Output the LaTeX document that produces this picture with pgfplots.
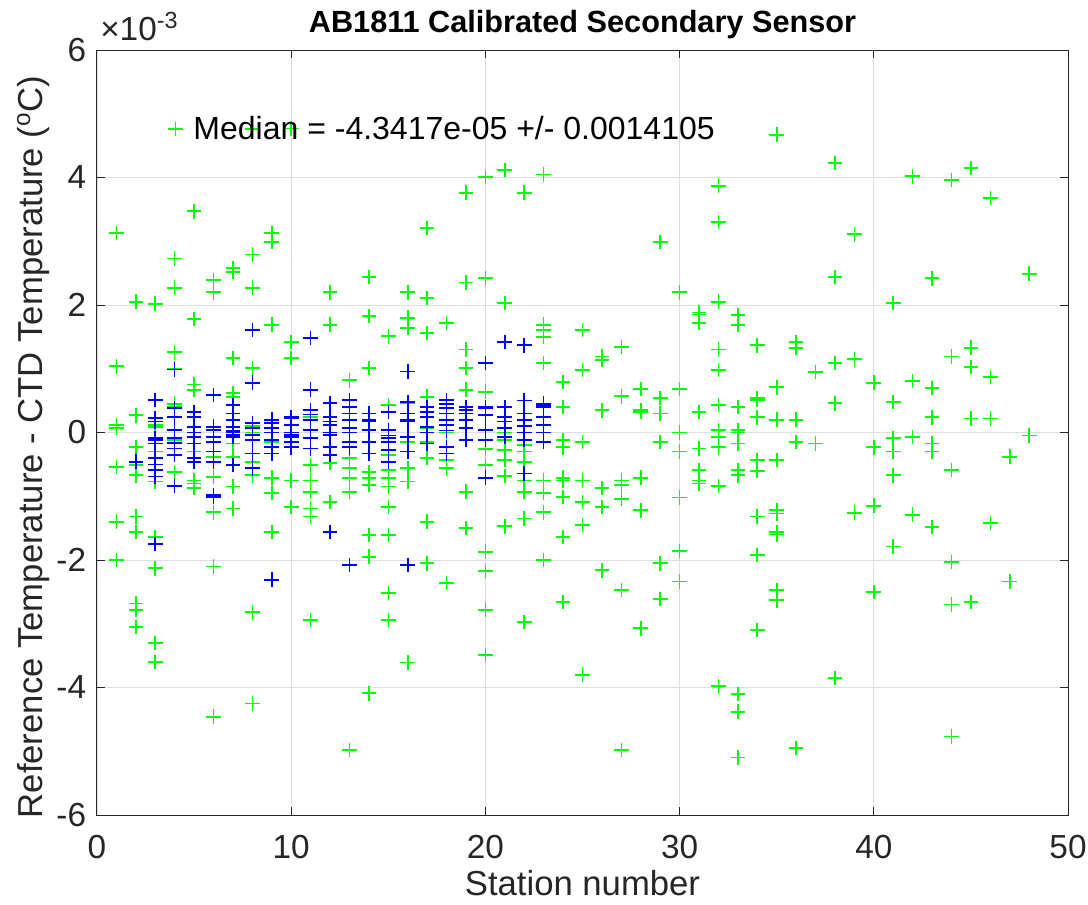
\documentclass[border=0pt]{standalone}
\usepackage{fontspec}
\setmainfont{Liberation Sans}
\usepackage{pgfplots}
\pgfplotsset{compat=1.18}
\usepackage{pgfplotstable}
\definecolor{mgreen}{rgb}{0,1,0}
\definecolor{mblue}{rgb}{0,0,1}
\definecolor{mgray}{rgb}{0.15,0.15,0.15}

% values in units of 1e-3 degC
\pgfplotstableread{
x y
1 3.13
1 1.04
1 0.12
1 0.07
1 -0.54
1 -1.4
1 -2.0
2 2.05
2 0.27
2 -0.23
2 -0.51
2 -0.67
2 -1.32
2 -1.56
2 -2.68
2 -2.78
2 -3.05
3 2.02
3 0.12
3 0.09
3 -0.3
3 -0.77
3 -1.64
3 -2.13
3 -3.3
3 -3.6
4 2.73
4 2.27
4 1.26
4 1.0
4 0.45
4 0.4
4 -0.12
4 -0.62
5 3.47
5 1.78
5 0.75
5 0.67
5 -0.17
5 -0.3
5 -0.75
5 -0.8
5 -0.87
6 2.39
6 2.2
6 -0.3
6 -0.38
6 -0.7
6 -1.25
6 -2.1
6 -4.46
7 2.58
7 2.52
7 1.17
7 0.62
7 0.56
7 -0.17
7 -0.38
7 -0.85
7 -1.19
8 4.76
8 2.79
8 2.27
8 1.01
8 0.1
8 0.0
8 -0.46
8 -0.67
8 -2.82
8 -4.25
9 3.13
9 2.99
9 1.69
9 -0.15
9 -0.71
9 -0.95
9 -1.56
10 4.77
10 1.42
10 1.17
10 -0.75
10 -1.17
11 0.24
11 -0.51
11 -0.75
11 -0.93
11 -1.19
11 -1.32
11 -2.94
12 2.2
12 1.69
12 -0.48
12 -1.09
12 -1.56
13 0.82
13 -0.4
13 -0.56
13 -0.71
13 -0.93
13 -4.98
14 2.44
14 1.83
14 1.01
14 -0.62
14 -0.71
14 -0.82
14 -1.61
14 -1.95
14 -4.09
15 1.51
15 0.43
15 -0.35
15 -0.59
15 -0.71
15 -0.85
15 -1.17
15 -1.61
15 -2.52
15 -2.94
16 2.2
16 1.8
16 1.64
16 0.46
16 -0.15
16 -0.56
16 -0.77
16 -3.61
17 3.21
17 2.11
17 1.56
17 0.56
17 0.07
17 -0.15
17 -0.4
17 -1.4
17 -2.05
18 1.72
18 0.0
18 -0.43
18 -0.56
18 -2.36
19 3.76
19 2.35
19 1.3
19 1.01
19 0.67
19 -0.93
19 -1.5
20 4.01
20 2.42
20 0.64
20 -0.12
20 -0.26
20 -0.51
20 -1.87
20 -2.17
20 -2.78
20 -3.49
21 4.12
21 2.03
21 0.0
21 -0.12
21 -0.27
21 -0.43
21 -0.68
21 -1.47
22 3.76
22 -0.2
22 -0.3
22 -0.46
22 -0.75
22 -0.93
22 -1.35
22 -2.97
23 4.05
23 1.69
23 1.61
23 1.5
23 1.09
23 -0.75
23 -0.95
23 -1.25
23 -2.0
24 0.79
24 0.4
24 -0.12
24 -0.23
24 -0.71
24 -0.75
24 -1.01
24 -1.64
24 -2.66
25 1.61
25 0.98
25 -0.15
25 -0.75
25 -1.09
25 -1.45
25 -3.8
26 1.19
26 1.14
26 0.35
26 -0.87
26 -1.17
26 -2.16
27 1.34
27 0.57
27 -0.75
27 -0.82
27 -1.04
27 -2.47
27 -4.98
28 0.68
28 0.35
28 0.32
28 -0.71
28 -1.22
28 -3.07
29 2.99
29 0.54
29 0.3
29 -0.15
29 -2.05
29 -2.61
30 2.2
30 0.68
30 0.0
30 -0.3
30 -1.02
30 -1.86
30 -2.34
31 1.88
31 1.85
31 1.72
31 0.32
31 -0.25
31 -0.59
31 -0.75
31 -0.8
32 3.87
32 3.3
32 2.05
32 1.3
32 0.98
32 0.43
32 0.04
32 -0.07
32 -0.23
32 -0.84
32 -3.98
33 1.84
33 1.69
33 0.4
33 0.04
33 0.0
33 -0.17
33 -0.59
33 -0.67
33 -4.1
33 -4.38
33 -5.1
34 1.37
34 0.54
34 0.51
34 0.24
34 -0.43
34 -0.6
34 -1.32
34 -1.92
34 -3.1
35 4.67
35 0.71
35 0.2
35 -0.43
35 -1.22
35 -1.27
35 -1.56
35 -1.6
35 -2.47
35 -2.63
36 1.42
36 1.33
36 0.2
36 -0.15
36 -4.95
37 0.95
37 -0.17
38 4.23
38 2.44
38 1.09
38 0.46
38 -3.85
39 3.11
39 1.15
39 -1.26
40 0.78
40 -0.23
40 -1.15
40 -2.5
41 2.03
41 0.48
41 -0.09
41 -0.3
41 -0.67
41 -1.79
42 4.02
42 0.81
42 -0.07
42 -1.29
43 2.42
43 0.7
43 0.24
43 -0.17
43 -0.3
43 -1.48
44 3.96
44 1.19
44 -0.59
44 -2.03
44 -2.7
44 -4.77
45 4.15
45 1.33
45 1.03
45 0.22
45 -2.66
46 3.68
46 0.87
46 0.22
46 -1.42
47 -0.38
47 -2.34
48 2.49
48 -0.05
}\greendata

\pgfplotstableread{
x y
2 -0.46
3 0.51
3 0.23
3 0.17
3 -0.09
3 -0.12
3 -0.17
3 -0.4
3 -0.5
3 -0.59
3 -0.69
3 -1.75
4 0.99
4 0.38
4 0.24
4 0.04
4 -0.09
4 -0.16
4 -0.25
4 -0.35
4 -0.84
5 0.32
5 0.24
5 0.09
5 0.0
5 -0.07
5 -0.17
5 -0.4
5 -0.46
6 0.59
6 0.09
6 0.04
6 -0.07
6 -0.15
6 -0.3
6 -0.46
6 -0.98
6 -1.01
7 0.43
7 0.3
7 0.2
7 0.09
7 0.02
7 0.0
7 -0.04
7 -0.07
7 -0.51
8 1.61
8 0.78
8 0.15
8 0.07
8 -0.04
8 -0.12
8 -0.33
8 -0.56
9 0.2
9 0.15
9 0.07
9 0.0
9 -0.12
9 -0.23
9 -0.33
9 -2.31
10 0.24
10 0.22
10 0.12
10 0.0
10 -0.04
10 -0.07
10 -0.15
10 -0.23
11 1.48
11 0.67
11 0.35
11 0.28
11 0.2
11 0.04
11 -0.09
11 -0.25
12 0.46
12 0.24
12 0.17
12 0.12
12 0.0
12 -0.04
12 -0.23
12 -0.35
12 -1.56
13 0.51
13 0.4
13 0.3
13 0.2
13 0.07
13 0.0
13 -0.15
13 -0.23
13 -2.08
14 0.3
14 0.2
14 0.17
14 0.04
14 -0.15
14 -0.33
15 0.32
15 0.04
15 -0.05
15 -0.09
15 -0.15
15 -0.27
15 -0.46
16 0.96
16 0.48
16 0.3
16 0.2
16 0.17
16 -0.06
16 -0.08
16 -0.3
16 -2.08
17 0.4
17 0.32
17 0.24
17 0.09
17 0.0
17 -0.17
18 0.51
18 0.45
18 0.38
18 0.3
18 0.2
18 0.12
18 0.03
18 -0.23
18 -0.33
19 0.4
19 0.35
19 0.3
19 0.2
19 0.07
19 -0.12
20 1.09
20 0.4
20 0.38
20 0.27
20 0.04
20 -0.12
20 -0.71
21 1.42
21 0.4
21 0.24
21 0.17
21 0.07
21 -0.07
22 1.37
22 0.5
22 0.3
22 0.2
22 0.1
22 0.0
22 -0.12
22 -0.64
23 0.45
23 0.43
23 0.4
23 0.24
23 0.12
23 0.0
23 -0.15
}\bluedata

\begin{document}
\begin{tikzpicture}
\useasboundingbox (-72.75pt,-66.75pt) rectangle (743.25pt,611.25pt);
\begin{axis}[
  at={(0pt,0pt)}, anchor=south west,
  scale only axis, width=728.25pt, height=573.75pt,
  xmin=0, xmax=50, ymin=-6, ymax=6,
  xtick={0,10,20,30,40,50}, xticklabels={0,10,20,30,40,50},
  ytick={-6,-4,-2,0,2,4,6}, yticklabels={-6,-4,-2,0,2,4,6},
  scaled ticks=false,
  grid=major,
  major grid style={color=black!13, line width=0.6pt},
  tick align=inside, major tick length=6pt,
  axis line style={color=mgray, line width=0.75pt},
  every tick/.style={color=mgray, line width=0.75pt},
  tick label style={font=\fontsize{25}{30}\selectfont, text=mgray},
  xticklabel style={anchor=north, inner sep=0pt, yshift=-15pt},
  yticklabel style={anchor=east, inner sep=0pt, xshift=-8pt},
  title={AB1811 Calibrated Secondary Sensor},
  title style={font=\bfseries\fontsize{23}{27}\selectfont, at={(axis description cs:0.5,1)}, anchor=base, yshift=7.5pt, inner sep=0pt},
  xlabel={Station number},
  xlabel style={font=\fontsize{26}{30}\selectfont, text=mgray, at={(axis description cs:0.5,0)}, anchor=base, yshift=-60pt, inner sep=0pt},
  ylabel={Reference Temperature - CTD Temperature (\textsuperscript{o}C)},
  ylabel style={font=\fontsize{26}{30}\selectfont, text=mgray, at={(axis description cs:-0.0566,0.481)}, anchor=base, inner sep=0pt},
  legend style={draw=none, fill=none, at={(axis cs:3.65,4.76)}, anchor=west,
    font=\fontsize{24}{28}\selectfont, inner sep=0pt, text=black},
  legend cell align=left,
  clip=false,
]
\addplot[only marks, mark=+, draw=mgreen, mark options={draw=mgreen}, mark size=5.5pt, line width=1.2pt] table {\greendata};
\addlegendentry{\hspace*{6pt}Median = -4.3417e-05 +/- 0.0014105}
\addplot[only marks, mark=+, draw=mblue, mark options={draw=mblue}, mark size=5.5pt, line width=1.2pt, forget plot] table {\bluedata};
\end{axis}
\node[anchor=base west, inner sep=0pt, font=\fontsize{25}{30}\selectfont, text=mgray] at (2.25pt,580.5pt) {×10\textsuperscript{-3}};
\end{tikzpicture}
\end{document}
